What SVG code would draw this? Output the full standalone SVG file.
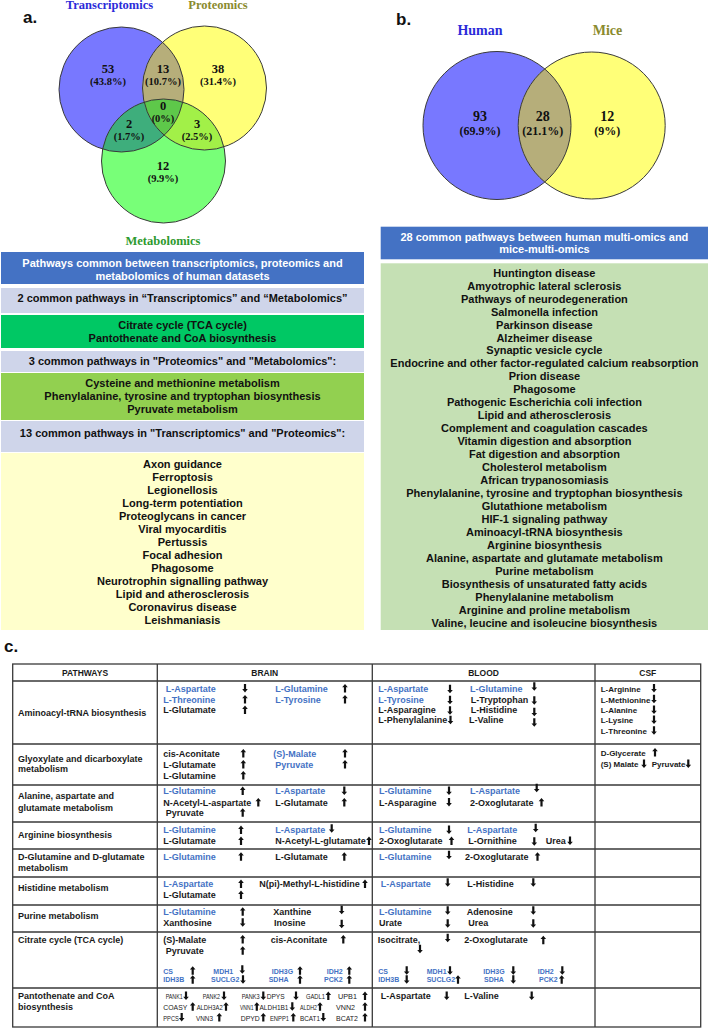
<svg xmlns="http://www.w3.org/2000/svg" xmlns:xlink="http://www.w3.org/1999/xlink" width="709" height="1028" viewBox="0 0 709 1028">
<style>
text{font-family:"Liberation Sans",Arial,sans-serif}
.lbl{font-weight:bold;font-size:17px;fill:#111}
.vt{font-family:"Liberation Serif","Times New Roman",serif;font-weight:bold;text-anchor:middle;fill:#111}
.n1{font-size:12.5px}.p1{font-size:10.5px}
.n2{font-size:14px}.p2{font-size:12px}
.tb{fill:#2b2bd9}.to{fill:#8b8b2e}.tg{fill:#2e9a2e}
.lst{font-weight:bold;font-size:11px;fill:#111;text-anchor:middle}
.wh{fill:#fff}
.k{font-weight:bold;font-size:9px;fill:#1a1a1a}
.b{fill:#4472c4}
.s{font-weight:bold;font-size:8px;fill:#1a1a1a}
.g{font-weight:bold;font-size:7px;fill:#4472c4}
.p{font-size:7.5px;fill:#1a1a1a}
.h{font-weight:bold;font-size:8.5px;fill:#1a1a1a;text-anchor:middle}
.ol{fill:none;stroke:#3a3a3a;stroke-width:1}
.tl{stroke:#3a3a3a;stroke-width:1.3;fill:none}
</style>
<defs>
<clipPath id="cB"><circle cx="121.5" cy="89.5" r="62.5"/></clipPath>
<clipPath id="cY"><circle cx="204.5" cy="88" r="62"/></clipPath>
<clipPath id="cH"><circle cx="497" cy="125.5" r="74"/></clipPath>
<path id="u" fill="#111" d="M0,-7.8 L2.8,-4.4 L1.1,-4.4 L1.1,0.8 L-1.1,0.8 L-1.1,-4.4 L-2.8,-4.4 Z"/>
<path id="d" fill="#111" d="M0,0.8 L2.8,-2.6 L1.1,-2.6 L1.1,-7.8 L-1.1,-7.8 L-1.1,-2.6 L-2.8,-2.6 Z"/>
</defs>
<rect width="709" height="1028" fill="#fff"/>

<g id="panel-a-venn">
<text class="lbl" x="23" y="23.3">a.</text>
<text class="vt tb n1" x="109.5" y="9.3">Transcriptomics</text>
<text class="vt to n1" x="218" y="9.3">Proteomics</text>
<circle cx="121.5" cy="89.5" r="62.5" fill="#7878ff"/>
<circle cx="204.5" cy="88" r="62" fill="#ffff78"/>
<circle cx="163.5" cy="161" r="62" fill="#78ff78"/>
<circle cx="204.5" cy="88" r="62" fill="#b6ae7a" clip-path="url(#cB)"/>
<circle cx="163.5" cy="161" r="62" fill="#3eae7c" clip-path="url(#cB)"/>
<circle cx="163.5" cy="161" r="62" fill="#a2f048" clip-path="url(#cY)"/>
<g clip-path="url(#cB)"><circle cx="163.5" cy="161" r="62" fill="#5ec84a" clip-path="url(#cY)"/></g>
<circle class="ol" cx="121.5" cy="89.5" r="62.5"/>
<circle class="ol" cx="204.5" cy="88" r="62"/>
<circle class="ol" cx="163.5" cy="161" r="62"/>
<text class="vt n1" x="108" y="72.5">53</text><text class="vt p1" x="108" y="85">(43.8%)</text>
<text class="vt n1" x="163" y="72.5">13</text><text class="vt p1" x="163" y="85">(10.7%)</text>
<text class="vt n1" x="218" y="72.5">38</text><text class="vt p1" x="218" y="85">(31.4%)</text>
<text class="vt n1" x="163" y="109.5">0</text><text class="vt p1" x="163" y="122">(0%)</text>
<text class="vt n1" x="129" y="127.5">2</text><text class="vt p1" x="129" y="140">(1.7%)</text>
<text class="vt n1" x="197" y="127.5">3</text><text class="vt p1" x="197" y="140">(2.5%)</text>
<text class="vt n1" x="163" y="169.5">12</text><text class="vt p1" x="163" y="182">(9.9%)</text>
<text class="vt tg n1" x="163" y="245">Metabolomics</text>
</g>

<g id="panel-a-lists">
<rect x="1" y="252" width="363" height="32" fill="#4472c4"/>
<text class="lst wh" x="182.5" y="267">Pathways common between transcriptomics, proteomics and</text>
<text class="lst wh" x="182.5" y="279.5">metabolomics of human datasets</text>
<rect x="1" y="288" width="363" height="25" fill="#cfd5ea"/>
<text class="lst" x="182.5" y="302">2 common pathways in “Transcriptomics” and “Metabolomics”</text>
<rect x="1" y="315" width="363" height="33" fill="#00c864"/>
<text class="lst" x="182.5" y="329.3">Citrate cycle (TCA cycle)</text>
<text class="lst" x="182.5" y="342">Pantothenate and CoA biosynthesis</text>
<rect x="1" y="351" width="363" height="21" fill="#cfd5ea"/>
<text class="lst" x="182.5" y="365">3 common pathways in "Proteomics" and "Metabolomics":</text>
<rect x="1" y="373" width="363" height="47" fill="#92d050"/>
<text class="lst" x="182.5" y="387.3">Cysteine and methionine metabolism</text>
<text class="lst" x="182.5" y="400.3">Phenylalanine, tyrosine and tryptophan biosynthesis</text>
<text class="lst" x="182.5" y="413.3">Pyruvate metabolism</text>
<rect x="1" y="421" width="363" height="31" fill="#cfd5ea"/>
<text class="lst" x="182.5" y="436.7">13 common pathways  in "Transcriptomics" and "Proteomics":</text>
<rect x="1" y="453" width="363" height="177" fill="#ffffcc"/>
<text class="lst" x="182.5" y="468.3"><tspan x="182.5">Axon guidance</tspan><tspan x="182.5" dy="13">Ferroptosis</tspan><tspan x="182.5" dy="13">Legionellosis</tspan><tspan x="182.5" dy="13">Long-term potentiation</tspan><tspan x="182.5" dy="13">Proteoglycans in cancer</tspan><tspan x="182.5" dy="13">Viral myocarditis</tspan><tspan x="182.5" dy="13">Pertussis</tspan><tspan x="182.5" dy="13">Focal adhesion</tspan><tspan x="182.5" dy="13">Phagosome</tspan><tspan x="182.5" dy="13">Neurotrophin signalling pathway</tspan><tspan x="182.5" dy="13">Lipid and atherosclerosis</tspan><tspan x="182.5" dy="13">Coronavirus disease</tspan><tspan x="182.5" dy="13">Leishmaniasis</tspan></text>
</g>

<g id="panel-b-venn">
<text class="lbl" x="396" y="25">b.</text>
<text class="vt tb n2" x="480" y="35">Human</text>
<text class="vt to n2" x="607.5" y="35">Mice</text>
<circle cx="497" cy="125.5" r="74" fill="#7878ff"/>
<circle cx="591.7" cy="125.5" r="73.5" fill="#ffff78"/>
<circle cx="591.7" cy="125.5" r="73.5" fill="#b6ae7a" clip-path="url(#cH)"/>
<circle class="ol" cx="497" cy="125.5" r="74"/>
<circle class="ol" cx="591.7" cy="125.5" r="73.5"/>
<text class="vt n2" x="480" y="121">93</text><text class="vt p2" x="480" y="135">(69.9%)</text>
<text class="vt n2" x="542.7" y="121">28</text><text class="vt p2" x="542.7" y="135">(21.1%)</text>
<text class="vt n2" x="607.3" y="121">12</text><text class="vt p2" x="607.3" y="135">(9%)</text>
</g>

<g id="panel-b-list">
<rect x="380.7" y="226.7" width="327.3" height="32.6" fill="#4472c4"/>
<text class="lst wh" x="544.4" y="240.7">28 common pathways between human multi-omics and</text>
<text class="lst wh" x="544.4" y="253.3">mice-multi-omics</text>
<rect x="380.7" y="263.3" width="327.3" height="366.7" fill="#c5e0b4"/>
<text class="lst" x="544.4" y="276.7"><tspan x="544.4">Huntington disease</tspan><tspan x="544.4" dy="12.96">Amyotrophic lateral sclerosis</tspan><tspan x="544.4" dy="12.96">Pathways of neurodegeneration</tspan><tspan x="544.4" dy="12.96">Salmonella infection</tspan><tspan x="544.4" dy="12.96">Parkinson disease</tspan><tspan x="544.4" dy="12.96">Alzheimer disease</tspan><tspan x="544.4" dy="12.96">Synaptic vesicle cycle</tspan><tspan x="544.4" dy="12.96">Endocrine and other factor-regulated calcium reabsorption</tspan><tspan x="544.4" dy="12.96">Prion disease</tspan><tspan x="544.4" dy="12.96">Phagosome</tspan><tspan x="544.4" dy="12.96">Pathogenic Escherichia coli infection</tspan><tspan x="544.4" dy="12.96">Lipid and atherosclerosis</tspan><tspan x="544.4" dy="12.96">Complement and coagulation cascades</tspan><tspan x="544.4" dy="12.96">Vitamin digestion and absorption</tspan><tspan x="544.4" dy="12.96">Fat digestion and absorption</tspan><tspan x="544.4" dy="12.96">Cholesterol metabolism</tspan><tspan x="544.4" dy="12.96">African trypanosomiasis</tspan><tspan x="544.4" dy="12.96">Phenylalanine, tyrosine and tryptophan biosynthesis</tspan><tspan x="544.4" dy="12.96">Glutathione metabolism</tspan><tspan x="544.4" dy="12.96">HIF-1 signaling pathway</tspan><tspan x="544.4" dy="12.96">Aminoacyl-tRNA biosynthesis</tspan><tspan x="544.4" dy="12.96">Arginine biosynthesis</tspan><tspan x="544.4" dy="12.96">Alanine, aspartate and glutamate metabolism</tspan><tspan x="544.4" dy="12.96">Purine metabolism</tspan><tspan x="544.4" dy="12.96">Biosynthesis of unsaturated fatty acids</tspan><tspan x="544.4" dy="12.96">Phenylalanine metabolism</tspan><tspan x="544.4" dy="12.96">Arginine and proline metabolism</tspan><tspan x="544.4" dy="12.96">Valine, leucine and isoleucine biosynthesis</tspan></text>
</g>

<g id="panel-c-table">
<text class="lbl" x="4" y="652">c.</text>
<rect class="tl" x="12.7" y="664" width="688" height="363"/>
<path class="tl" d="M12.7,681H700.7M12.7,744H700.7M12.7,785H700.7M12.7,822H700.7M12.7,849H700.7M12.7,877H700.7M12.7,905H700.7M12.7,932H700.7M12.7,988H700.7M157.3,664V1027M372.3,664V1027M595,664V1027"/>
<text class="h" x="85" y="675.5">PATHWAYS</text>
<text class="h" x="264.8" y="675.5">BRAIN</text>
<text class="h" x="483.6" y="675.5">BLOOD</text>
<text class="h" x="647.8" y="675.5">CSF</text>

<g id="row-aminoacyl">
<text class="k" x="18" y="716">Aminoacyl-tRNA biosynthesis</text>
<text class="k b" x="165.7" y="691.7">L-Aspartate</text><use href="#d" x="245" y="691.7"/>
<text class="k b" x="275.3" y="691.7">L-Glutamine</text><use href="#u" x="345" y="691.7"/>
<text class="k b" x="163.3" y="702.7">L-Threonine</text><use href="#u" x="245" y="702.7"/>
<text class="k b" x="275.3" y="702.7">L-Tyrosine</text><use href="#u" x="345" y="702.7"/>
<text class="k" x="163.3" y="713.3">L-Glutamate</text><use href="#u" x="245" y="713.3"/>
<text class="k b" x="378.3" y="691.7">L-Aspartate</text><use href="#d" x="450" y="692.5"/>
<text class="k b" x="470" y="691.7">L-Glutamine</text><use href="#d" x="534.3" y="690"/>
<text class="k b" x="378.3" y="702.7">L-Tyrosine</text><use href="#d" x="450" y="703.5"/>
<text class="k" x="470.7" y="702.7">L-Tryptophan</text><use href="#d" x="534.3" y="704"/>
<text class="k" x="378.3" y="713.3">L-Asparagine</text><use href="#d" x="450" y="714"/>
<text class="k" x="470.7" y="713.3">L-Histidine</text><use href="#d" x="534.3" y="715.5"/>
<text class="k" x="378.3" y="723.3">L-Phenylalanine</text><use href="#d" x="450.5" y="723.5"/>
<text class="k" x="469" y="723.3">L-Valine</text><use href="#d" x="534.3" y="726"/>
<text class="s" x="600.7" y="691.7">L-Arginine</text><use href="#d" x="654" y="691.7"/>
<text class="s" x="600.7" y="702.5">L-Methionine</text><use href="#d" x="654" y="702.5"/>
<text class="s" x="600.7" y="713.3">L-Alanine</text><use href="#d" x="654" y="713.3"/>
<text class="s" x="600.7" y="723.3">L-Lysine</text><use href="#d" x="654" y="723.3"/>
<text class="s b" x="600.7" y="734">L-Threonine</text><use href="#d" x="654" y="734"/>
</g>

<g id="row-glyoxylate">
<text class="k" x="18" y="761.7">Glyoxylate and dicarboxylate</text>
<text class="k" x="18" y="772.3">metabolism</text>
<text class="k" x="163.3" y="756.7">cis-Aconitate</text><use href="#u" x="243.3" y="756.7"/>
<text class="k b" x="273.3" y="756.7">(S)-Malate</text><use href="#u" x="345" y="756.7"/>
<text class="k" x="163.3" y="767.7">L-Glutamate</text><use href="#u" x="243.3" y="767.7"/>
<text class="k b" x="275.3" y="767.7">Pyruvate</text><use href="#u" x="345" y="767.7"/>
<text class="k" x="163.3" y="778.7">L-Glutamine</text><use href="#u" x="243.3" y="778.7"/>
<text class="s" x="600.7" y="755.7">D-Glycerate</text><use href="#u" x="655" y="755.7"/>
<text class="s b" x="600.7" y="767.3">(S) Malate</text><use href="#d" x="644" y="767.3"/>
<text class="s b" x="651.7" y="767.3">Pyruvate</text><use href="#d" x="688.3" y="767.3"/>
</g>

<g id="row-alanine">
<text class="k" x="18" y="799.3">Alanine, aspartate and</text>
<text class="k" x="18" y="810.7">glutamate metabolism</text>
<text class="k b" x="163.3" y="794.3">L-Glutamine</text><use href="#u" x="242.7" y="794.3"/>
<text class="k b" x="275.3" y="794.3">L-Aspartate</text><use href="#d" x="344.3" y="794.3"/>
<text class="k" x="163.3" y="805.7">N-Acetyl-L-aspartate</text><use href="#u" x="258.3" y="805.7"/>
<text class="k" x="275.3" y="805.7">L-Glutamate</text><use href="#u" x="344.3" y="805.7"/>
<text class="k" x="165.7" y="816">Pyruvate</text><use href="#u" x="242.7" y="816"/>
<text class="k b" x="379" y="794.3">L-Glutamine</text><use href="#d" x="449" y="794.3"/>
<text class="k b" x="470" y="794.3">L-Aspartate</text><use href="#d" x="536.7" y="791.5"/>
<text class="k" x="379" y="805.7">L-Asparagine</text><use href="#d" x="449" y="805.7"/>
<text class="k" x="470" y="805.7">2-Oxoglutarate</text><use href="#u" x="541.5" y="805.7"/>
</g>

<g id="row-arginine">
<text class="k" x="18" y="838.3">Arginine biosynthesis</text>
<text class="k b" x="163.3" y="833.3">L-Glutamine</text><use href="#u" x="241" y="833.3"/>
<text class="k b" x="275.3" y="833.3">L-Aspartate</text><use href="#d" x="331.7" y="832"/>
<text class="k" x="163.3" y="844.3">L-Glutamate</text><use href="#u" x="241" y="844.3"/>
<text class="k" x="275.3" y="844.3">N-Acetyl-L-glutamate</text><use href="#u" x="369" y="844.3"/>
<text class="k b" x="379" y="833.3">L-Glutamine</text><use href="#d" x="449" y="833.3"/>
<text class="k b" x="467.3" y="833.3">L-Aspartate</text><use href="#d" x="535.7" y="831.5"/>
<text class="k" x="379" y="844.3">2-Oxoglutarate</text><use href="#u" x="451.5" y="844.3"/>
<text class="k" x="468.3" y="844.3">L-Ornithine</text><use href="#d" x="534.3" y="845"/>
<text class="k" x="545.7" y="844.3">Urea</text><use href="#d" x="570" y="844.3"/>
</g>

<g id="row-dglutamine">
<text class="k" x="18" y="860">D-Glutamine and D-glutamate</text>
<text class="k" x="18" y="870.7">metabolism</text>
<text class="k b" x="163.3" y="860">L-Glutamine</text><use href="#u" x="241" y="860"/>
<text class="k" x="275.3" y="860">L-Glutamate</text><use href="#u" x="344.3" y="860"/>
<text class="k b" x="379" y="860">L-Glutamine</text><use href="#d" x="449" y="858.5"/>
<text class="k" x="465" y="860">2-Oxoglutarate</text><use href="#u" x="537.5" y="860"/>
</g>

<g id="row-histidine">
<text class="k" x="18" y="891">Histidine metabolism</text>
<text class="k b" x="163.3" y="887.3">L-Aspartate</text><use href="#u" x="241" y="887.3"/>
<text class="k" x="259.3" y="887.3">N(pi)-Methyl-L-histidine</text><use href="#u" x="365" y="887.3"/>
<text class="k" x="163.3" y="898.3">L-Glutamate</text><use href="#u" x="241" y="898.3"/>
<text class="k b" x="380.7" y="887.3">L-Aspartate</text><use href="#d" x="447.7" y="886"/>
<text class="k" x="467.3" y="887.3">L-Histidine</text><use href="#d" x="533.3" y="886"/>
</g>

<g id="row-purine">
<text class="k" x="18" y="919.3">Purine metabolism</text>
<text class="k b" x="163.3" y="915">L-Glutamine</text><use href="#u" x="242.7" y="915"/>
<text class="k" x="273.3" y="915">Xanthine</text><use href="#d" x="341.7" y="913.5"/>
<text class="k" x="163.3" y="926">Xanthosine</text><use href="#d" x="242.7" y="926"/>
<text class="k" x="274" y="926">Inosine</text><use href="#d" x="341.7" y="927.5"/>
<text class="k b" x="379" y="915">L-Glutamine</text><use href="#d" x="447.7" y="914"/>
<text class="k" x="466.7" y="915">Adenosine</text><use href="#d" x="533.3" y="914"/>
<text class="k" x="379" y="926">Urate</text><use href="#d" x="447.7" y="927"/>
<text class="k" x="468.3" y="926">Urea</text><use href="#d" x="533.3" y="927"/>
</g>

<g id="row-citrate">
<text class="k" x="18" y="942.7">Citrate cycle (TCA cycle)</text>
<text class="k" x="163.3" y="942.7">(S)-Malate</text><use href="#u" x="242.7" y="942.7"/>
<text class="k" x="270.7" y="942.7">cis-Aconitate</text><use href="#u" x="343.3" y="942.7"/>
<text class="k" x="165.7" y="954">Pyruvate</text><use href="#u" x="242.7" y="954"/>
<text class="g" x="163.3" y="974">CS</text><use href="#u" x="192.7" y="974"/>
<text class="g" x="213.3" y="974">MDH1</text><use href="#d" x="242.3" y="973"/>
<text class="g" x="271.7" y="974">IDH3G</text><use href="#u" x="300" y="974"/>
<text class="g" x="326.7" y="974">IDH2</text><use href="#u" x="349.3" y="974"/>
<text class="g" x="163.3" y="982.3">IDH3B</text><use href="#u" x="192.7" y="983"/>
<text class="g" x="211" y="982.3">SUCLG2</text><use href="#d" x="243" y="983"/>
<text class="g" x="268.7" y="982.3">SDHA</text><use href="#u" x="300" y="983"/>
<text class="g" x="324" y="982.3">PCK2</text><use href="#u" x="349.3" y="983"/>
<text class="k" x="377.7" y="942.7">Isocitrate,</text><use href="#d" x="447.7" y="941.5"/>
<text class="k" x="464.3" y="942.7">2-Oxoglutarate</text><use href="#u" x="543.3" y="943.5"/>
<use href="#d" x="420" y="952.5"/>
<text class="g" x="378.3" y="974">CS</text><use href="#d" x="406.7" y="974"/>
<text class="g" x="426.7" y="974">MDH1</text><use href="#d" x="450" y="974"/>
<text class="g" x="483.3" y="974">IDH3G</text><use href="#d" x="513.3" y="974"/>
<text class="g" x="537.7" y="974">IDH2</text><use href="#d" x="562.3" y="974"/>
<text class="g" x="378.3" y="982.3">IDH3B</text><use href="#d" x="406.7" y="983"/>
<text class="g" x="426.7" y="982.3">SUCLG2</text><use href="#u" x="458" y="983"/>
<text class="g" x="484" y="982.3">SDHA</text><use href="#d" x="513.3" y="983"/>
<text class="g" x="539" y="982.3">PCK2</text><use href="#u" x="561.7" y="983"/>
</g>

<g id="row-pantothenate">
<text class="k" x="18" y="999.3">Pantothenate and CoA</text>
<text class="k" x="18" y="1010">biosynthesis</text>
<text class="p" x="165.7" y="999.3" textLength="17" lengthAdjust="spacingAndGlyphs">PANK1</text><use href="#d" x="186" y="999.3"/>
<text class="p" x="202.7" y="999.3" textLength="17.3" lengthAdjust="spacingAndGlyphs">PANK2</text><use href="#d" x="224" y="999.3"/>
<text class="p" x="241.7" y="999.3" textLength="18" lengthAdjust="spacingAndGlyphs">PANK3</text><use href="#d" x="263.3" y="999.3"/>
<text class="p" x="266.7" y="999.3" textLength="18" lengthAdjust="spacingAndGlyphs">DPYS</text><use href="#d" x="296" y="999.3"/>
<text class="p" x="306" y="999.3" textLength="19" lengthAdjust="spacingAndGlyphs">GADL1</text><use href="#u" x="328.3" y="999.3"/>
<text class="p" x="338" y="999.3" textLength="19" lengthAdjust="spacingAndGlyphs">UPB1</text><use href="#u" x="365" y="999.3"/>
<text class="p" x="163.3" y="1010" textLength="24" lengthAdjust="spacingAndGlyphs">COASY</text><use href="#u" x="192.7" y="1010"/>
<text class="p" x="196.7" y="1010" textLength="26" lengthAdjust="spacingAndGlyphs">ALDH3A2</text><use href="#u" x="226" y="1010"/>
<text class="p" x="240" y="1010" textLength="13.5" lengthAdjust="spacingAndGlyphs">VNN1</text><use href="#u" x="256.8" y="1010"/>
<text class="p" x="259.5" y="1010" textLength="29" lengthAdjust="spacingAndGlyphs">ALDH1B1</text><use href="#d" x="292.3" y="1010"/>
<text class="p" x="300" y="1010" textLength="17" lengthAdjust="spacingAndGlyphs">ALDH2</text><use href="#u" x="320" y="1010"/>
<text class="p" x="336" y="1010" textLength="19" lengthAdjust="spacingAndGlyphs">VNN2</text><use href="#u" x="365" y="1010"/>
<text class="p" x="163.3" y="1020.7" textLength="15.5" lengthAdjust="spacingAndGlyphs">PPCS</text><use href="#d" x="181.7" y="1020.7"/>
<text class="p" x="196" y="1020.7" textLength="17" lengthAdjust="spacingAndGlyphs">VNN3</text><use href="#u" x="219.3" y="1020.7"/>
<text class="p" x="240.7" y="1020.7" textLength="19" lengthAdjust="spacingAndGlyphs">DPYD</text><use href="#u" x="263.3" y="1020.7"/>
<text class="p" x="270" y="1020.7" textLength="19" lengthAdjust="spacingAndGlyphs">ENPP1</text><use href="#u" x="293.3" y="1020.7"/>
<text class="p" x="300" y="1020.7" textLength="20" lengthAdjust="spacingAndGlyphs">BCAT1</text><use href="#d" x="323.3" y="1020.7"/>
<text class="p" x="336" y="1020.7" textLength="22" lengthAdjust="spacingAndGlyphs">BCAT2</text><use href="#u" x="365" y="1020.7"/>
<text class="k" x="380.7" y="999.3">L-Aspartate</text><use href="#d" x="446.7" y="999.3"/>
<text class="k" x="464.3" y="999.3">L-Valine</text><use href="#d" x="531.7" y="999.3"/>
</g>
</g>
</svg>
